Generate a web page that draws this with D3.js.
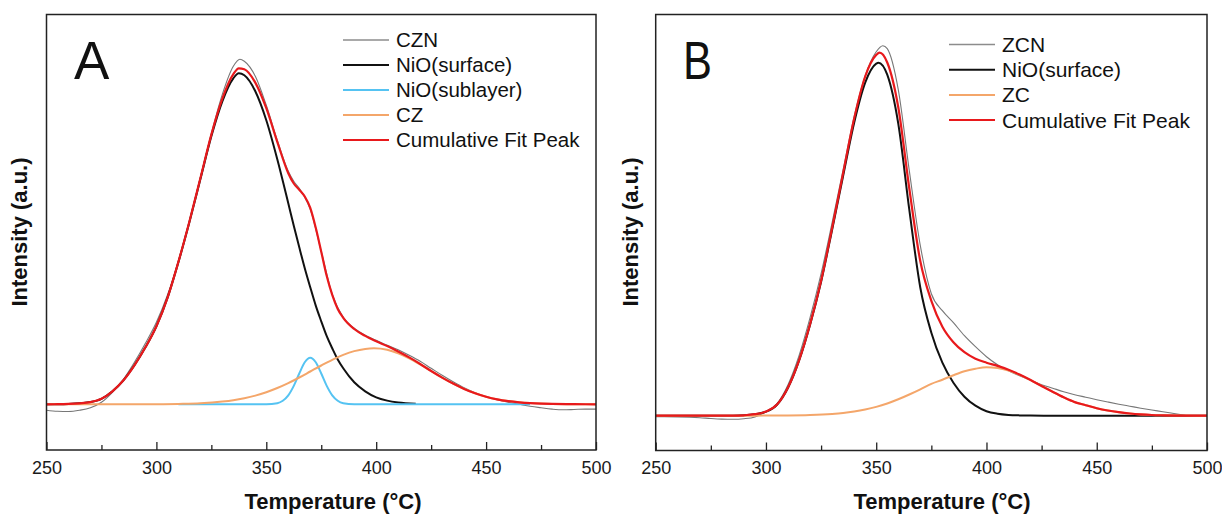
<!DOCTYPE html>
<html>
<head>
<meta charset="utf-8">
<script src="https://cdn.jsdelivr.net/npm/d3@7"></script>
<style>
  html, body { margin: 0; padding: 0; background: #fff; }
  svg { display: block; font-family: "Liberation Sans", Arial, Helvetica, sans-serif; }
</style>
</head>
<body>
<svg id="chart" width="1222" height="516"></svg>
<script>
// ---- Axis ticks (temperature, °C) ----
const tempTicks = [250, 300, 350, 400, 450, 500];
const tempMinorTicks = [275, 325, 375, 425, 475];

// ---- Panel A: CZN H2-TPR profile and its fitted components [T (°C), intensity (a.u.)] ----
const cznA = [[250,-0.06],[255,-0.07],[260,-0.072],[265,-0.06],[270,-0.035],[275,0.02],[280,0.12],[285,0.25],[290,0.42],[295,0.61],[300,0.82],[305,1.09],[310,1.43],[315,1.83],[320,2.27],[325,2.71],[330,3.10],[335,3.38],[338,3.45],[340,3.43],[345,3.28],[350,2.99],[355,2.64],[360,2.33],[362.5,2.23],[365,2.16],[367.5,2.07],[370,1.95],[375,1.53],[380,1.10],[385,0.87],[390,0.76],[395,0.69],[400,0.64],[405,0.59],[410,0.545],[415,0.49],[420,0.43],[425,0.36],[430,0.29],[435,0.225],[440,0.165],[445,0.115],[450,0.075],[455,0.045],[460,0.02],[465,0.0],[470,-0.02],[475,-0.035],[480,-0.048],[485,-0.055],[490,-0.052],[495,-0.048],[500,-0.048]];
const surfaceA = [[250,0],[255,0.001],[260,0.004],[265,0.010],[270,0.022],[275,0.055],[280,0.13],[285,0.24],[290,0.39],[295,0.57],[300,0.78],[305,1.06],[310,1.42],[315,1.82],[320,2.25],[325,2.68],[330,3.03],[335,3.26],[337.5,3.31],[340,3.29],[345,3.13],[350,2.84],[355,2.45],[360,2.01],[362.5,1.785],[365,1.57],[367.5,1.361],[370,1.17],[372.5,0.987],[375,0.83],[377.5,0.681],[380,0.56],[382.5,0.448],[385,0.36],[390,0.22],[395,0.13],[400,0.07],[405,0.037],[410,0.018],[418,0.005]];
const sublayerA = [[310,0],[350,0],[355,0.011],[357.5,0.035],[360,0.089],[362.5,0.184],[365,0.308],[367.5,0.420],[370,0.466],[372.5,0.420],[375,0.308],[377.5,0.184],[380,0.089],[382.5,0.035],[385,0.011],[390,0.001],[400,0],[470,0]];
const czA = [[250,0],[290,0],[300,0.001],[310,0.004],[320,0.010],[330,0.027],[335,0.041],[340,0.061],[345,0.087],[350,0.121],[355,0.163],[360,0.212],[365,0.268],[370,0.328],[375,0.388],[380,0.445],[385,0.494],[390,0.532],[395,0.554],[399,0.560],[405,0.545],[410,0.510],[415,0.460],[420,0.399],[425,0.333],[430,0.267],[435,0.207],[440,0.154],[445,0.110],[450,0.076],[455,0.050],[460,0.032],[465,0.020],[470,0.012],[475,0.007],[480,0.004],[490,0.001],[500,0]];
const fitA = [[250,0],[255,0.001],[260,0.004],[265,0.010],[270,0.022],[275,0.055],[280,0.13],[285,0.24],[290,0.39],[295,0.57],[300,0.781],[305,1.062],[310,1.424],[315,1.826],[320,2.26],[325,2.697],[330,3.057],[335,3.301],[337.5,3.36],[340,3.351],[345,3.217],[350,2.961],[355,2.624],[360,2.311],[362.5,2.208],[365,2.146],[367.5,2.078],[370,1.964],[372.5,1.765],[375,1.526],[377.5,1.282],[380,1.094],[382.5,0.954],[385,0.865],[390,0.753],[395,0.684],[400,0.63],[405,0.582],[410,0.528],[415,0.469],[420,0.403],[425,0.333],[430,0.267],[435,0.207],[440,0.154],[445,0.110],[450,0.076],[455,0.050],[460,0.032],[465,0.020],[470,0.012],[475,0.007],[480,0.004],[490,0.001],[500,0]];

// ---- Panel B: ZCN H2-TPR profile and its fitted components ----
const zcnB = [[250,-0.01],[260,-0.012],[270,-0.02],[275,-0.028],[280,-0.034],[285,-0.036],[290,-0.03],[295,-0.012],[300,0.04],[305,0.12],[310,0.31],[315,0.60],[320,0.98],[325,1.42],[330,1.93],[335,2.46],[340,2.99],[345,3.40],[350,3.64],[353,3.70],[355,3.67],[360,3.26],[365,2.45],[370,1.70],[375,1.22],[380,1.05],[385,0.93],[390,0.80],[395,0.69],[400,0.59],[405,0.51],[410,0.45],[415,0.40],[420,0.355],[425,0.31],[430,0.275],[435,0.24],[440,0.21],[445,0.185],[450,0.16],[455,0.137],[460,0.115],[465,0.095],[470,0.075],[475,0.057],[480,0.04],[485,0.022],[491,0.0]];
const surfaceB = [[250,0],[285,0],[290,0.004],[295,0.015],[300,0.04],[305,0.11],[310,0.28],[315,0.55],[320,0.91],[325,1.34],[330,1.86],[335,2.40],[340,2.93],[345,3.33],[350,3.52],[351,3.53],[355,3.41],[360,2.92],[365,2.06],[370,1.28],[375,0.83],[380,0.53],[385,0.33],[390,0.19],[395,0.10],[400,0.045],[405,0.02],[410,0.008],[415,0.003],[420,0.001],[430,0],[500,0]];
const zcB = [[250,0],[290,0],[300,0.001],[310,0.002],[320,0.006],[330,0.017],[335,0.027],[340,0.042],[345,0.062],[350,0.088],[355,0.122],[360,0.164],[365,0.212],[370,0.264],[375,0.319],[380,0.36],[385,0.405],[390,0.445],[395,0.47],[400,0.485],[405,0.478],[410,0.452],[415,0.409],[420,0.356],[425,0.297],[430,0.239],[435,0.184],[440,0.136],[445,0.105],[450,0.075],[455,0.052],[460,0.035],[465,0.022],[470,0.013],[475,0.007],[480,0.004],[490,0.001],[500,0]];
const fitB = [[250,0],[285,0],[290,0.004],[295,0.015],[300,0.041],[305,0.111],[310,0.282],[315,0.554],[320,0.916],[325,1.35],[330,1.877],[335,2.427],[340,2.972],[345,3.392],[350,3.608],[351.5,3.63],[355,3.532],[360,3.084],[365,2.272],[370,1.544],[375,1.149],[380,0.89],[385,0.735],[390,0.635],[395,0.57],[400,0.53],[405,0.498],[410,0.46],[415,0.412],[420,0.357],[425,0.297],[430,0.239],[435,0.184],[440,0.136],[445,0.105],[450,0.075],[455,0.052],[460,0.035],[465,0.022],[470,0.013],[475,0.007],[480,0.004],[490,0.001],[500,0]];

// ---- Series styling ----
const COLORS = { sample: "#777777", surface: "#111111", sublayer: "#55c3f2", support: "#f4a66a", fit: "#e8191c" };

const panels = [
  {
    letter: "A",
    frame: { left: 46.5, right: 596, top: 14.5, bottom: 450 },
    yDomain: [-0.457, 3.898],
    series: [
      { name: "CZN", data: cznA, color: COLORS.sample, width: 1.1, sample: true },
      { name: "NiO(surface)", data: surfaceA, color: COLORS.surface, width: 2 },
      { name: "NiO(sublayer)", data: sublayerA, color: COLORS.sublayer, width: 2 },
      { name: "CZ", data: czA, color: COLORS.support, width: 2 },
      { name: "Cumulative Fit Peak", data: fitA, color: COLORS.fit, width: 2.2 }
    ],
    legend: { x1: 343, x2: 389, tx: 396, y0: 40, dy: 25, fontSize: 20.5 },
    letter: "A", letterPos: [74, 79], letterScaleX: 1,
    yTitleX: 27,
    xTitleX: 333
  },
  {
    letter: "B",
    frame: { left: 655.7, right: 1207, top: 14.5, bottom: 450.5 },
    yDomain: [-0.348, 4.012],
    series: [
      { name: "ZCN", data: zcnB, color: COLORS.sample, width: 1.1, sample: true },
      { name: "NiO(surface)", data: surfaceB, color: COLORS.surface, width: 2 },
      { name: "ZC", data: zcB, color: COLORS.support, width: 2 },
      { name: "Cumulative Fit Peak", data: fitB, color: COLORS.fit, width: 2.2 }
    ],
    legend: { x1: 949, x2: 995, tx: 1002, y0: 44.5, dy: 25.2, fontSize: 21 },
    letter: "B", letterPos: [683, 79], letterScaleX: 0.82,
    yTitleX: 637.5,
    xTitleX: 942
  }
];

const svg = d3.select("#chart");

panels.forEach(p => {
  const f = p.frame;
  const x = d3.scaleLinear().domain([250, 500]).range([f.left, f.right]);
  const y = d3.scaleLinear().domain(p.yDomain).range([f.bottom, f.top]);
  const g = svg.append("g");

  // curves
  const line = d3.line().x(d => x(d[0])).y(d => y(d[1])).curve(d3.curveMonotoneX);
  g.selectAll("path.curve").data(p.series).join("path")
    .attr("class", "curve")
    .attr("d", s => line(s.data))
    .attr("fill", "none")
    .attr("stroke", s => s.color)
    .attr("stroke-width", s => s.width)
    .attr("stroke-linejoin", "round");

  // frame
  g.append("rect")
    .attr("x", f.left).attr("y", f.top)
    .attr("width", f.right - f.left).attr("height", f.bottom - f.top)
    .attr("fill", "none").attr("stroke", "#222").attr("stroke-width", 1.5);

  // bottom axis: inward major and minor ticks
  const axMajor = g.append("g").attr("transform", `translate(0,${f.bottom})`)
    .call(d3.axisBottom(x).tickValues(tempTicks).tickSize(-8).tickPadding(11).tickFormat(d3.format("d")));
  axMajor.select(".domain").remove();
  axMajor.selectAll(".tick line").attr("stroke", "#222").attr("stroke-width", 1.3);
  axMajor.selectAll(".tick text")
    .attr("fill", "#1a1a1a")
    .style("font-size", "18px")
    .style("font-family", "'Liberation Sans', Arial, sans-serif");

  const axMinor = g.append("g").attr("transform", `translate(0,${f.bottom})`)
    .call(d3.axisBottom(x).tickValues(tempMinorTicks).tickSize(-5).tickFormat(""));
  axMinor.select(".domain").remove();
  axMinor.selectAll(".tick line").attr("stroke", "#222").attr("stroke-width", 1.3);

  // axis titles
  g.append("text")
    .attr("x", p.xTitleX).attr("y", 509)
    .attr("text-anchor", "middle")
    .style("font-size", "22px").style("font-weight", "bold").attr("fill", "#111")
    .text("Temperature (°C)");

  g.append("text")
    .attr("transform", `translate(${p.yTitleX},${232}) rotate(-90)`)
    .attr("text-anchor", "middle")
    .style("font-size", "22px").style("font-weight", "bold").attr("fill", "#111")
    .text("Intensity (a.u.)");

  // panel letter
  g.append("text")
    .attr("transform", `translate(${p.letterPos[0]},${p.letterPos[1]}) scale(${p.letterScaleX},1)`)
    .style("font-size", "53px").attr("fill", "#111")
    .text(p.letter);

  // legend
  const L = p.legend;
  const lg = g.append("g");
  p.series.forEach((s, i) => {
    const yy = L.y0 + i * L.dy;
    lg.append("line")
      .attr("x1", L.x1).attr("x2", L.x2).attr("y1", yy).attr("y2", yy)
      .attr("stroke", s.sample ? "#8c8c8c" : s.color).attr("stroke-width", s.sample ? 1.5 : 2);
    lg.append("text")
      .attr("x", L.tx).attr("y", yy).attr("dy", "0.36em")
      .style("font-size", L.fontSize + "px").attr("fill", "#111")
      .text(s.name);
  });
});
</script>
</body>
</html>
